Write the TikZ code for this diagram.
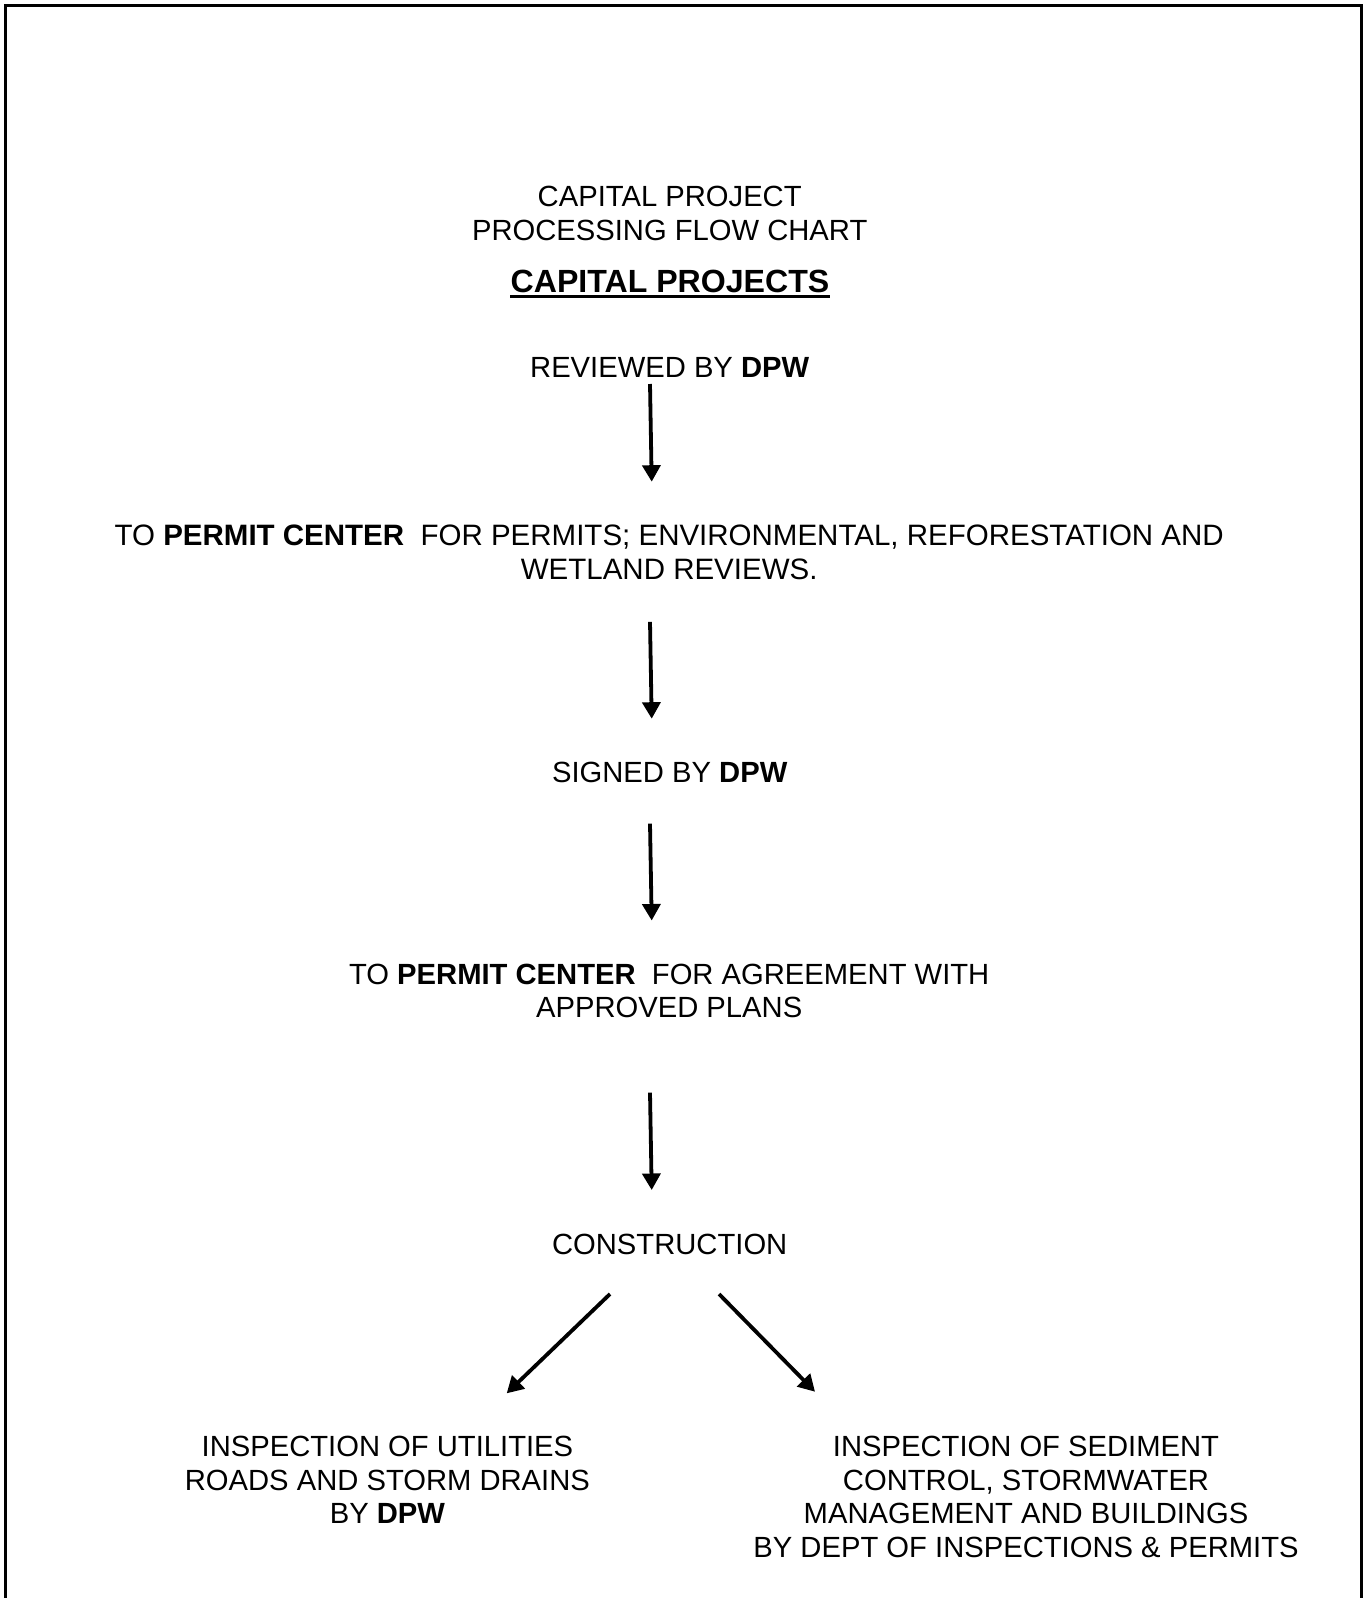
\documentclass[tikz,border=0pt]{standalone}
\usepackage{fontspec}
\setmainfont{Liberation Sans}
\usetikzlibrary{arrows.meta}
% centred block of lines whose baseline is the first line's baseline
\newcommand{\stack}[1]{\begin{tabular}[t]{@{}c@{}}#1\end{tabular}}

\begin{document}
\begin{tikzpicture}[x=1pt,y=-1pt,
  txt/.style={inner sep=0pt, anchor=base, font=\fontsize{29.2}{33.5}\selectfont},
  ttl/.style={inner sep=0pt, anchor=base, font=\fontsize{32.1}{36}\selectfont\bfseries},
  flow/.style={line width=3.8pt, -{Triangle[length=16.5pt,width=18pt]}},
  frame/.style={line width=2.6pt}]
\useasboundingbox (0,0) rectangle (1369,1598);

% page frame, open at the bottom
\draw[frame] (5.3,1598) -- (5.3,5.3) -- (1361.2,5.3) -- (1361.2,1598);

% heading
\node[txt] (hdr) at (669.7,206.5) {\stack{CAPITAL PROJECT\\PROCESSING FLOW CHART}};
\node[ttl] (ttl) at (670,292) {CAPITAL PROJECTS};
\draw[line width=2.5pt] ([yshift=-4.6pt]ttl.base west) -- ([yshift=-4.6pt]ttl.base east);

% steps
\node[txt] (rev) at (669.7,377.5) {REVIEWED BY \textbf{DPW}};
\node[txt, font=\fontsize{29.5}{33.6}\selectfont] (pc1) at (669.2,545.7) {\stack{TO \textbf{PERMIT CENTER}\ \ FOR PERMITS; ENVIRONMENTAL, REFORESTATION AND\\WETLAND REVIEWS.}};
\node[txt] (sign) at (669.7,782.2) {SIGNED BY \textbf{DPW}};
\node[txt] (pc2) at (669.2,984) {\stack{TO \textbf{PERMIT CENTER}\ \ FOR AGREEMENT WITH\\APPROVED PLANS}};
\node[txt] (cons) at (669.7,1254.2) {CONSTRUCTION};
\node[txt] (insL) at (387.4,1456.5) {\stack{INSPECTION OF UTILITIES\\ROADS AND STORM DRAINS\\BY \textbf{DPW}}};
\node[txt] (insR) at (1026,1456.5) {\stack{INSPECTION OF SEDIMENT\\CONTROL, STORMWATER\\MANAGEMENT AND BUILDINGS\\BY DEPT OF INSPECTIONS \& PERMITS}};

% connectors
\draw[flow] ([shift={(-19.7,6.5)}]rev.base) -- ([shift={(-17.5,-64)}]pc1.base);
\draw[flow] ([shift={(-19.2,76.1)}]pc1.base) -- ([shift={(-18,-63.5)}]sign.base);
\draw[flow] ([shift={(-19.7,41.5)}]sign.base) -- ([shift={(-17.5,-63.5)}]pc2.base);
\draw[flow] ([shift={(-19.2,108.7)}]pc2.base) -- ([shift={(-18,-64.2)}]cons.base);
\draw[flow] ([shift={(-59.7,39.8)}]cons.base) -- ([shift={(119.3,-63.2)}]insL.base);
\draw[flow] ([shift={(49.3,39.8)}]cons.base) -- ([shift={(-211,-64.8)}]insR.base);
\end{tikzpicture}
\end{document}
